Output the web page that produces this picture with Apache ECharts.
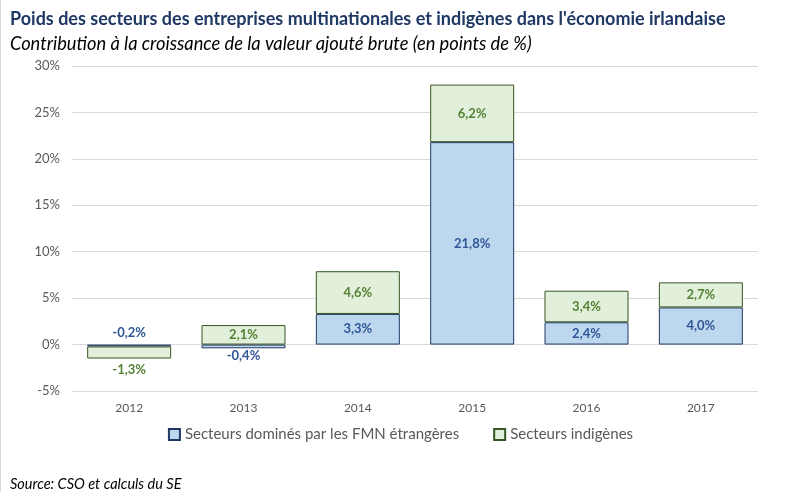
<!DOCTYPE html>
<html><head><meta charset="utf-8">
<script src="https://cdn.jsdelivr.net/npm/echarts@6/dist/echarts.min.js"></script>
<style>html,body{margin:0;padding:0;background:#fff}#c{width:801px;height:492px}</style>
</head><body><div id="c"></div>
<script>
var categories = ['2012','2013','2014','2015','2016','2017'];
var foreignValues = [-0.2, -0.4, 3.3, 21.8, 2.4, 4.0];
var domesticValues = [-1.3, 2.1, 4.6, 6.2, 3.4, 2.7];
var yTicks = [-5, 0, 5, 10, 15, 20, 25, 30];
var seriesNames = ['Secteurs dominés par les FMN étrangères', 'Secteurs indigènes'];

var FONT = 'Lato';
var foreignLabelPos = {0: 'top', 1: 'bottom'};
var domesticLabelPos = {0: 'bottom'};

function fmt(v){ return v.toFixed(1).replace('.', ',') + '%'; }
function build(values, posMap, dist){
  return values.map(function(v, i){
    var item = {value: v};
    if (posMap[i]) item.label = {position: posMap[i], distance: dist[i] != null ? dist[i] : 5};
    return item;
  });
}

var chart = echarts.init(document.getElementById('c'));
chart.setOption({
  animation: false,
  title: [
    {text: 'Poids des secteurs des entreprises multinationales et indigènes dans l\'économie irlandaise',
     left: 5, top: 5, textStyle: {fontFamily: FONT, fontSize: 18, fontWeight: 'bold', color: '#1F3864'}},
    {text: 'Contribution à la croissance de la valeur ajouté brute (en points de %)',
     left: 5, top: 30, textStyle: {fontFamily: FONT, fontSize: 18.3, fontStyle: 'italic', fontWeight: 'normal', color: '#000'}},
    {text: 'Source: CSO et calculs du SE',
     left: 5, top: 472, textStyle: {fontFamily: FONT, fontSize: 14.5, fontStyle: 'italic', fontWeight: 'normal', color: '#000'}}
  ],
  graphic: [{type: 'line', shape: {x1: 0.5, y1: 0, x2: 0.5, y2: 492}, style: {stroke: '#D9D9D9', lineWidth: 1}}],
  legend: {
    bottom: 45, left: 'center', itemWidth: 11, itemHeight: 11, itemGap: 34,
    textStyle: {fontFamily: FONT, fontSize: 15, color: '#595959'},
    data: seriesNames.map(function(n){ return {name: n, icon: 'rect'}; })
  },
  grid: {left: 72, right: 43, top: 66, bottom: 101},
  xAxis: {
    type: 'category', data: categories,
    axisLine: {show: false}, axisTick: {show: false},
    axisLabel: {fontFamily: FONT, fontSize: 12, color: '#595959', margin: 11}
  },
  yAxis: {
    type: 'value', min: -5, max: 30, interval: 5,
    axisLine: {show: false}, axisTick: {show: false},
    splitLine: {lineStyle: {color: '#D9D9D9', width: 1}},
    axisLabel: {fontFamily: FONT, fontSize: 13, color: '#595959', margin: 12,
      formatter: function(v){ return yTicks.indexOf(v) >= 0 ? v + '%' : ''; }}
  },
  series: [
    {name: seriesNames[0], type: 'bar', stack: 'total', barWidth: 84,
     itemStyle: {color: '#BDD7EE', borderColor: '#203864', borderWidth: 1},
     label: {show: true, position: 'inside', fontFamily: FONT, fontSize: 13, fontWeight: 'bold', color: '#2F5597',
       formatter: function(p){ return fmt(p.value); }},
     data: build(foreignValues, foreignLabelPos, {0: 5, 1: 1})},
    {name: seriesNames[1], type: 'bar', stack: 'total', barWidth: 84,
     itemStyle: {color: '#E2EFDA', borderColor: '#375623', borderWidth: 1},
     label: {show: true, position: 'inside', fontFamily: FONT, fontSize: 13, fontWeight: 'bold', color: '#548235',
       formatter: function(p){ return fmt(p.value); }},
     data: build(domesticValues, domesticLabelPos, {0: 5})}
  ]
});
</script></body></html>
